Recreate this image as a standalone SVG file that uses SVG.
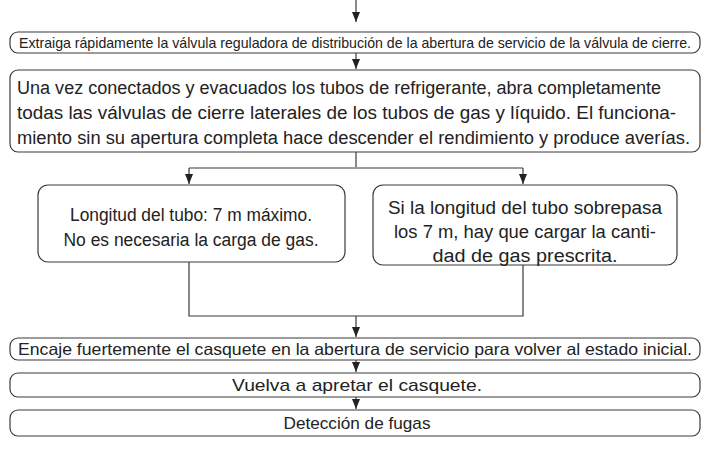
<svg xmlns="http://www.w3.org/2000/svg" width="708" height="466" viewBox="0 0 708 466">
<style>
.box{fill:#fff;stroke:#3a3a3a;stroke-width:1.2}
.t{font-family:"Liberation Sans Narrow","Liberation Sans",Arial,sans-serif;fill:#222}
.c{text-anchor:middle}
.ln{fill:none;stroke:#3a3a3a;stroke-width:1.2}
</style>
<defs>
<marker id="ah" markerWidth="10" markerHeight="8" refX="10" refY="4" orient="auto" markerUnits="userSpaceOnUse">
<path d="M0,0 L10,4 L0,8 Z" fill="#222"/>
</marker>
</defs>
<g id="connectors">
<path class="ln" d="M356,0 V22" marker-end="url(#ah)"/>
<path class="ln" d="M356,53 V69" marker-end="url(#ah)"/>
<path class="ln" d="M356,152 V167"/>
<path class="ln" d="M189,168 H523"/>
<path class="ln" d="M189,168 V184" marker-end="url(#ah)"/>
<path class="ln" d="M523,168 V184" marker-end="url(#ah)"/>
<path class="ln" d="M189,262 V316 H523 V265"/>
<path class="ln" d="M356,316 V337" marker-end="url(#ah)"/>
<path class="ln" d="M356,360 V372" marker-end="url(#ah)"/>
<path class="ln" d="M356,397 V409" marker-end="url(#ah)"/>
</g>
<g id="n1">
<rect class="box" x="10" y="32" width="690" height="21" rx="8"/>
<text class="t c" x="355" y="47.5" font-size="14.5" textLength="672" lengthAdjust="spacingAndGlyphs">Extraiga rápidamente la válvula reguladora de distribución de la abertura de servicio de la válvula de cierre.</text>
</g>
<g id="n2">
<rect class="box" x="10" y="70" width="690" height="82" rx="8"/>
<text class="t" x="17" y="94" font-size="18" textLength="644" lengthAdjust="spacingAndGlyphs">Una vez conectados y evacuados los tubos de refrigerante, abra completamente</text>
<text class="t" x="17" y="119" font-size="18" textLength="659" lengthAdjust="spacingAndGlyphs">todas las válvulas de cierre laterales de los tubos de gas y líquido. El funciona-</text>
<text class="t" x="17" y="144" font-size="18" textLength="673" lengthAdjust="spacingAndGlyphs">miento sin su apertura completa hace descender el rendimiento y produce averías.</text>
</g>
<g id="n3">
<rect class="box" x="38" y="185" width="307" height="77" rx="10"/>
<text class="t c" x="191" y="221" font-size="18" textLength="242" lengthAdjust="spacingAndGlyphs">Longitud del tubo: 7 m máximo.</text>
<text class="t c" x="191" y="246" font-size="18" textLength="255" lengthAdjust="spacingAndGlyphs">No es necesaria la carga de gas.</text>
</g>
<g id="n4">
<rect class="box" x="373" y="185" width="304" height="80" rx="10"/>
<text class="t c" x="525" y="214" font-size="18" textLength="274" lengthAdjust="spacingAndGlyphs">Si la longitud del tubo sobrepasa</text>
<text class="t c" x="525" y="238" font-size="18" textLength="262" lengthAdjust="spacingAndGlyphs">los 7 m, hay que cargar la canti-</text>
<text class="t c" x="525" y="262" font-size="18" textLength="185" lengthAdjust="spacingAndGlyphs">dad de gas prescrita.</text>
</g>
<g id="n5">
<rect class="box" x="10" y="338" width="690" height="22" rx="8"/>
<text class="t c" x="355" y="355" font-size="16.5" textLength="674" lengthAdjust="spacingAndGlyphs">Encaje fuertemente el casquete en la abertura de servicio para volver al estado inicial.</text>
</g>
<g id="n6">
<rect class="box" x="10" y="373" width="690" height="24" rx="8"/>
<text class="t c" x="357" y="391" font-size="17" textLength="250" lengthAdjust="spacingAndGlyphs">Vuelva a apretar el casquete.</text>
</g>
<g id="n7">
<rect class="box" x="10" y="410" width="690" height="26" rx="8"/>
<text class="t c" x="357" y="429" font-size="17" textLength="147" lengthAdjust="spacingAndGlyphs">Detección de fugas</text>
</g>
</svg>
